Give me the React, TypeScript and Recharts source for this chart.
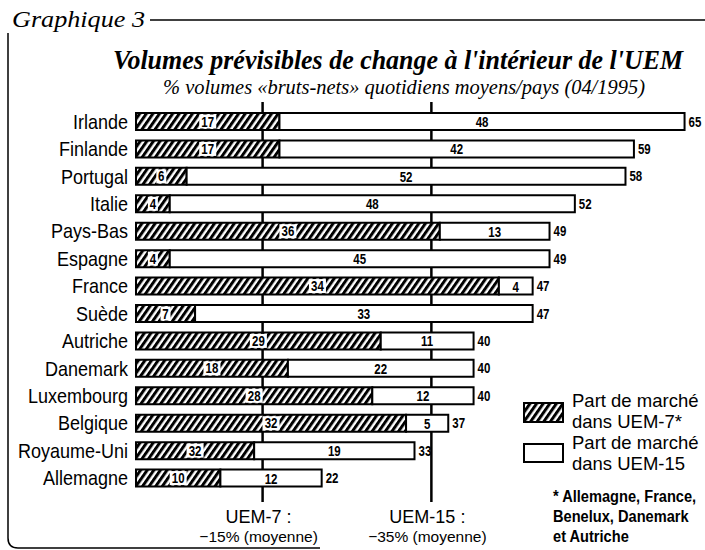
import { Bar, BarChart, LabelList, ReferenceLine, XAxis, YAxis } from "recharts";

const countries = [
  "Irlande",
  "Finlande",
  "Portugal",
  "Italie",
  "Pays-Bas",
  "Espagne",
  "France",
  "Suède",
  "Autriche",
  "Danemark",
  "Luxembourg",
  "Belgique",
  "Royaume-Uni",
  "Allemagne",
];
// bar lengths as drawn in the original
const uem7Share = [17, 17, 6, 4, 36, 4, 43, 7, 29, 18, 28, 32, 14, 10];
const uem15Extra = [48, 42, 52, 48, 13, 45, 4, 40, 11, 22, 12, 5, 19, 12];
// numbers as printed on the bars
const uem7Printed = ["17", "17", "6", "4", "36", "4", "34", "7", "29", "18", "28", "32", "32", "10"];
const uem15Printed = ["48", "42", "52", "48", "13", "45", "4", "33", "11", "22", "12", "5", "19", "12"];
const totals = [65, 59, 58, 52, 49, 49, 47, 47, 40, 40, 40, 37, 33, 22];

const averageValues = [15, 35];
const averageNames = ["UEM-7 :", "UEM-15 :"];
const averageNotes = ["−15% (moyenne)", "−35% (moyenne)"];

const data = countries.map((country, i) => ({
  country,
  uem7: uem7Share[i],
  uem15: uem15Extra[i],
  uem7Label: uem7Printed[i],
  uem15Label: uem15Printed[i],
  total: totals[i],
}));

const SANS = "'Liberation Sans', Arial, sans-serif";
const SERIF = "'Liberation Serif', 'Times New Roman', serif";
const MARGIN = { top: 102, right: 12, bottom: 48, left: 0 };

// Arial squeezed horizontally, standing in for Helvetica Condensed
function Narrow({ x, y, size, anchor = "start", weight = 400, squeeze = 0.82, children }: any) {
  return (
    <text
      transform={`translate(${x} ${y}) scale(${squeeze} 1)`}
      textAnchor={anchor}
      fontFamily={SANS}
      fontSize={size}
      fontWeight={weight}
      fill="#000"
    >
      {children}
    </text>
  );
}

function rectOf(props: any) {
  const vb = props.viewBox ?? {};
  return {
    x: Number(props.x ?? vb.x),
    y: Number(props.y ?? vb.y),
    width: Number(props.width ?? vb.width),
    height: Number(props.height ?? vb.height),
  };
}

function HatchValue(props: any) {
  const { x, y, width, height } = rectOf(props);
  const cx = x + width / 2;
  const cy = y + height / 2;
  const w = String(props.value).length * 7 + 3;
  return (
    <g>
      <rect x={cx - w / 2} y={cy - 7} width={w} height={14} fill="#fff" />
      <Narrow x={cx} y={cy + 5} size={14} weight={700} anchor="middle">{props.value}</Narrow>
    </g>
  );
}

function PlainValue(props: any) {
  const { x, y, width, height } = rectOf(props);
  return (
    <Narrow x={x + width / 2} y={y + height / 2 + 5.5} size={14} weight={700} anchor="middle">
      {props.value}
    </Narrow>
  );
}

function TotalValue(props: any) {
  const { x, y, width, height } = rectOf(props);
  return (
    <Narrow x={x + width + 4} y={y + height / 2 + 5} size={14} weight={700}>
      {props.value}
    </Narrow>
  );
}

function CountryTick(props: any) {
  return (
    <Narrow x={props.x} y={props.y + 7} size={20} anchor="end" squeeze={0.9}>
      {props.payload.value}
    </Narrow>
  );
}

function averageLabel(i: number) {
  return (props: any) => {
    const vb = props.viewBox ?? {};
    const x = Number(vb.x) - 4;
    const bottom = Number(vb.y) + Number(vb.height);
    return (
      <g>
        <text x={x} y={bottom + 21} textAnchor="middle" fontFamily={SANS} fontSize={18} fill="#000">
          {averageNames[i]}
        </text>
        <text x={x} y={bottom + 40} textAnchor="middle" fontFamily={SANS} fontSize={15.5} fill="#000">
          {averageNotes[i]}
        </text>
      </g>
    );
  };
}

function Hatch({ id }: { id: string }) {
  return (
    <pattern id={id} patternUnits="userSpaceOnUse" width={5.4} height={5.4} patternTransform="rotate(35)">
      <rect width={5.4} height={5.4} fill="#fff" />
      <line x1={1.5} y1={0} x2={1.5} y2={5.4} stroke="#000" strokeWidth={3} />
    </pattern>
  );
}

export default function App() {
  return (
    <div style={{ position: "absolute", left: 0, top: 0, width: 705, height: 550, background: "#fff" }}>
      {/* average lines sit behind the bars, so they get their own chart underneath */}
      <div style={{ position: "absolute", left: 0, top: 0 }}>
        <BarChart width={705} height={550} data={data} layout="vertical" margin={MARGIN}>
          <XAxis type="number" domain={[0, 66]} hide />
          <YAxis type="category" dataKey="country" width={136} tick={false} tickLine={false} axisLine={false} />
          <Bar dataKey="uem7" stackId="a" fill="none" isAnimationActive={false} />
          <Bar dataKey="uem15" stackId="a" fill="none" isAnimationActive={false} />
          {averageValues.map((v, i) => (
            <ReferenceLine key={v} x={v} stroke="#000" strokeWidth={2.5} label={averageLabel(i)} ifOverflow="visible" />
          ))}
        </BarChart>
      </div>

      <div style={{ position: "absolute", left: 0, top: 0 }}>
        <BarChart width={705} height={550} data={data} layout="vertical" margin={MARGIN}>
          <defs>
            <Hatch id="hatch" />
          </defs>
          <XAxis type="number" domain={[0, 66]} hide />
          <YAxis
            type="category"
            dataKey="country"
            width={136}
            tickLine={false}
            axisLine={false}
            padding={{ top: 6, bottom: 10 }}
            tick={CountryTick}
            interval={0}
          />
          <Bar dataKey="uem7" stackId="a" barSize={17} fill="url(#hatch)" stroke="#000" strokeWidth={2} isAnimationActive={false}>
            <LabelList dataKey="uem7Label" content={HatchValue} />
          </Bar>
          <Bar dataKey="uem15" stackId="a" barSize={17} fill="#fff" stroke="#000" strokeWidth={2} isAnimationActive={false}>
            <LabelList dataKey="uem15Label" content={PlainValue} />
            <LabelList dataKey="total" content={TotalValue} />
          </Bar>
        </BarChart>
      </div>

      <svg width={705} height={550} style={{ position: "absolute", left: 0, top: 0, pointerEvents: "none" }}>
        <defs>
          <Hatch id="hatchLegend" />
        </defs>
        <text x={12} y={27} fontFamily={SERIF} fontStyle="italic" fontSize={23} textLength={133} lengthAdjust="spacingAndGlyphs">
          Graphique 3
        </text>
        <line x1={150} y1={20} x2={705} y2={20} stroke="#000" strokeWidth={1.5} />
        <path d="M 8 33 V 538 Q 8 548 18 548 H 320" fill="none" stroke="#000" strokeWidth={1.5} />
        <text x={398} y={69} textAnchor="middle" fontFamily={SERIF} fontStyle="italic" fontWeight={700} fontSize={26.5} textLength={570} lengthAdjust="spacingAndGlyphs">
          Volumes prévisibles de change à l'intérieur de l'UEM
        </text>
        <text x={404} y={94} textAnchor="middle" fontFamily={SERIF} fontStyle="italic" fontSize={20} textLength={482} lengthAdjust="spacingAndGlyphs">
          % volumes «bruts-nets» quotidiens moyens/pays (04/1995)
        </text>

        <rect x={524} y={403} width={39} height={19} fill="url(#hatchLegend)" stroke="#000" strokeWidth={2} />
        <text x={572} y={407} fontFamily={SANS} fontSize={18.5}>Part de marché</text>
        <text x={572} y={428} fontFamily={SANS} fontSize={18.5}>dans UEM-7*</text>
        <rect x={524} y={444} width={39} height={18} fill="#fff" stroke="#000" strokeWidth={2} />
        <text x={572} y={449} fontFamily={SANS} fontSize={18.5}>Part de marché</text>
        <text x={572} y={470} fontFamily={SANS} fontSize={18.5}>dans UEM-15</text>

        <Narrow x={553} y={502} size={17} weight={700} squeeze={0.86}>* Allemagne, France,</Narrow>
        <Narrow x={553} y={522} size={17} weight={700} squeeze={0.86}>Benelux, Danemark</Narrow>
        <Narrow x={553} y={542} size={17} weight={700} squeeze={0.86}>et Autriche</Narrow>
      </svg>
    </div>
  );
}
